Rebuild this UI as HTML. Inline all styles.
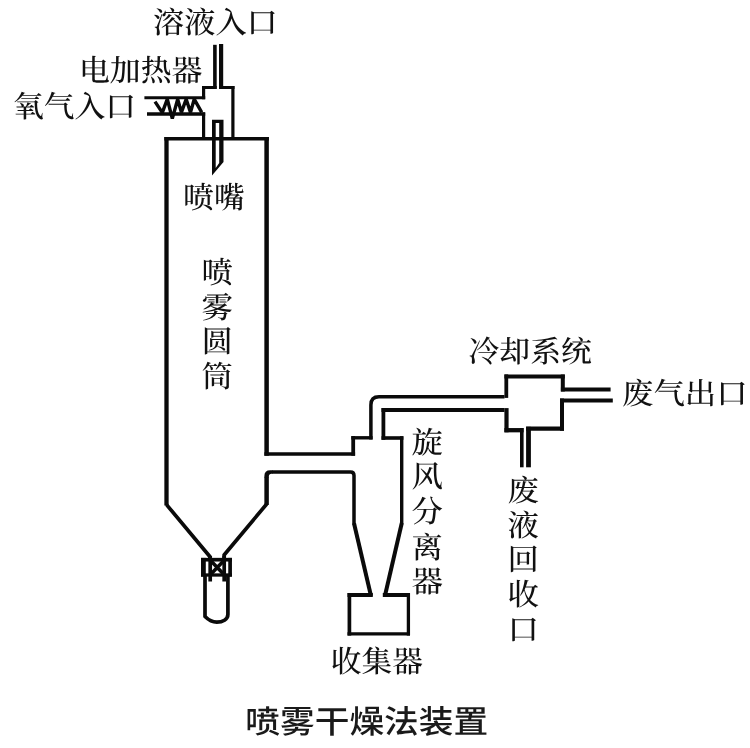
<!DOCTYPE html>
<html lang="zh">
<head>
<meta charset="utf-8">
<title>喷雾干燥法装置</title>
<style>
html,body{margin:0;padding:0;background:#fff;}
body{width:750px;height:748px;overflow:hidden;}
svg{display:block;}
text{text-rendering:geometricPrecision;}
svg{filter:grayscale(1);}
.s{font-family:"Liberation Serif","Noto Serif CJK SC",serif;font-size:30px;fill:#111;font-weight:500;}
.t{font-family:"Liberation Sans","Noto Sans CJK SC",sans-serif;font-size:32px;fill:#1a1a1a;font-weight:500;}
.l{fill:none;stroke:#0a0a0a;stroke-width:3.4;stroke-linecap:butt;stroke-linejoin:miter;}
</style>
</head>
<body>
<svg width="750" height="748" viewBox="0 0 750 748">
<rect width="750" height="748" fill="#fff"/>
<g class="l">
<!-- solution inlet pipe + small box -->
<path d="M214.9 44.8V88.8" stroke-width="3.6"/>
<path d="M221.1 44V88.8" stroke-width="4.2"/>
<path d="M202 87.4H216.7M219 87.4H234.5" stroke-width="3"/>
<path d="M203.6 86V99.3M203.6 112.4V138.8M232.9 86V138.8" stroke-width="3.2"/>
<path d="M144.4 97.8H205.2" stroke-width="3.1"/>
<path d="M147 114H205.2" stroke-width="3.3"/>
<!-- heater zigzag -->
<path d="M155 101.6L162.3 112.6L167.3 99.2L172.3 118.6L177.7 99.2L181.4 112.4L186.2 99.2L190.5 112.4L194.2 99.2L201.7 112.4" stroke-width="3.4" stroke-linejoin="bevel"/>
<!-- nozzle -->
<path d="M212 119.7H223.5V162L212 175.5ZM215.7 123V168L219.2 163V123Z" fill="#0a0a0a" fill-rule="evenodd" stroke="none"/>
<!-- cylinder -->
<path d="M164.3 138.85H268.9" stroke-width="3.5"/>
<path d="M166.5 137.1V505.6" stroke-width="4.3"/>
<path d="M166.5 504.6L210 556.8V559" stroke-width="3.7" stroke-linejoin="round"/>
<path d="M266.6 137.1V455.7" stroke-width="4.5"/>
<path d="M264.4 454H355.1" stroke-width="3.4"/>
<path d="M353.2 455.7V436.1" stroke-width="3.8"/>
<path d="M351.3 437.8H372.6" stroke-width="3.4"/>
<path d="M370.9 439.5V405Q370.9 396.8 379 396.8H504.5" stroke-width="3.5"/>
<path d="M266.6 505V477.5" stroke-width="4.5"/>
<path d="M264.35 478V476.2Q264.35 470.35 270.2 470.35H272.5V473.85H271.6Q268.85 473.85 268.85 476.6V478Z" fill="#0a0a0a" stroke="none"/>
<path d="M266.7 504L224.1 555V559" stroke-width="3.7" stroke-linejoin="round"/>
<path d="M272 472.1H350.5Q354 472.1 354 475.6V524.5" stroke-width="3.5"/>
<path d="M354 523.3L371 596" stroke-width="4"/>
<!-- valve -->
<path d="M203.4 557.9V576.6" stroke-width="4.8"/>
<path d="M230.1 557.9V576.6" stroke-width="3.7"/>
<path d="M201 559.7H231.9" stroke-width="3.7"/>
<path d="M201 575H231.9" stroke-width="3.3"/>
<path d="M210.2 556V581.4M224.2 556V581.4" stroke-width="3.7"/>
<path d="M211.5 561.5L223 573.5M223 561.5L211.5 573.5" stroke-width="3.6"/>
<!-- tube -->
<path d="M205 576V616.5C208 619.5 211 622.2 216.8 622.2C222.5 622.2 227.9 619.5 227.9 614.5V576" stroke-width="3.7" stroke-linejoin="round"/>
<!-- cyclone -->
<path d="M504.5 410H381.5" stroke-width="3.8"/>
<path d="M383.4 408.1V439.8" stroke-width="3.8"/>
<path d="M381.5 438H403.4" stroke-width="3.6"/>
<path d="M401.7 436.2V524.3" stroke-width="3.4"/>
<path d="M401.8 523L384.9 596" stroke-width="4"/>
<path d="M349.4 593V635.6" stroke-width="3.7"/>
<path d="M408.4 593V635.6" stroke-width="3.3"/>
<path d="M347.5 595H372.8M382.8 595H410" stroke-width="3.9"/>
<path d="M347.5 633.9H410" stroke-width="3.4"/>
<!-- cooling -->
<path d="M504.4 376.5H564.8" stroke-width="4.2"/>
<path d="M506.3 374.4V397.9" stroke-width="3.8"/>
<path d="M506.5 408.1V432.3" stroke-width="4.2"/>
<path d="M504.4 430.2H523.6" stroke-width="4.3"/>
<path d="M526.1 428.7H564" stroke-width="4.2"/>
<path d="M562.8 374.4V391.5M562 398.4V430.8" stroke-width="4"/>
<path d="M560.9 389.5H610.6" stroke-width="4"/>
<path d="M560 400.5H612.8" stroke-width="4.2"/>
<path d="M521.8 428V467.3" stroke-width="3.6"/>
<path d="M528.5 426.8V467.3" stroke-width="4.8"/>
</g>
<g class="s">
<text id="t1" x="153" y="33.4" textLength="124.8" lengthAdjust="spacingAndGlyphs">溶液入口</text>
<text id="t2" x="79" y="81.2" textLength="123.5" lengthAdjust="spacingAndGlyphs">电加热器</text>
<text id="t3" x="13" y="117.2" textLength="123" lengthAdjust="spacingAndGlyphs">氧气入口</text>
<text id="t4" x="183" y="208.3" textLength="61.8" lengthAdjust="spacingAndGlyphs">喷嘴</text>
<text id="v1a" x="201.5" y="283.0" textLength="31.4" lengthAdjust="spacingAndGlyphs">喷</text>
<text id="v1b" x="201.5" y="317.5" textLength="31.4" lengthAdjust="spacingAndGlyphs">雾</text>
<text id="v1c" x="201.5" y="352.0" textLength="31.4" lengthAdjust="spacingAndGlyphs">圆</text>
<text id="v1d" x="201.5" y="386.5" textLength="31.4" lengthAdjust="spacingAndGlyphs">筒</text>
<text id="t5" x="468.5" y="362.0" textLength="123.5" lengthAdjust="spacingAndGlyphs">冷却系统</text>
<text id="t6" x="622" y="404.0" textLength="125.6" lengthAdjust="spacingAndGlyphs">废气出口</text>
<text id="v2a" x="411.5" y="453.0" textLength="31.4" lengthAdjust="spacingAndGlyphs">旋</text>
<text id="v2b" x="411.5" y="487.2" textLength="31.4" lengthAdjust="spacingAndGlyphs">风</text>
<text id="v2c" x="411.5" y="522.4" textLength="31.4" lengthAdjust="spacingAndGlyphs">分</text>
<text id="v2d" x="411.5" y="558.1" textLength="31.4" lengthAdjust="spacingAndGlyphs">离</text>
<text id="v2e" x="411.5" y="592.3" textLength="31.4" lengthAdjust="spacingAndGlyphs">器</text>
<text id="v3a" x="507.5" y="501.0" textLength="31.4" lengthAdjust="spacingAndGlyphs">废</text>
<text id="v3b" x="507.5" y="536.0" textLength="31.4" lengthAdjust="spacingAndGlyphs">液</text>
<text id="v3c" x="507.5" y="570.4" textLength="31.4" lengthAdjust="spacingAndGlyphs">回</text>
<text id="v3d" x="507.5" y="605.1" textLength="31.4" lengthAdjust="spacingAndGlyphs">收</text>
<text id="v3e" x="507.5" y="640.3" textLength="31.4" lengthAdjust="spacingAndGlyphs">口</text>
<text id="t7" x="330.8" y="672.3" textLength="92" lengthAdjust="spacingAndGlyphs">收集器</text>
</g>
<text id="tt" class="t" x="245.3" y="732.8" textLength="242.9" lengthAdjust="spacingAndGlyphs">喷雾干燥法装置</text>
</svg>
</body>
</html>
